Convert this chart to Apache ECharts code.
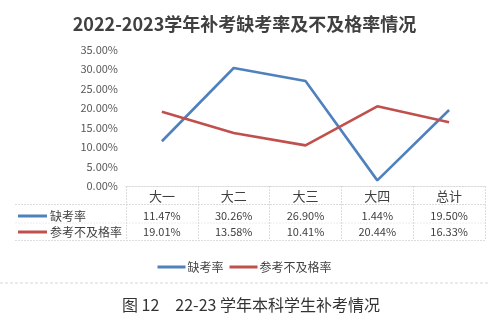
<!DOCTYPE html>
<html>
<head>
<meta charset="utf-8">
<script src="https://cdn.jsdelivr.net/npm/echarts@6/dist/echarts.min.js"></script>
<style>
  html, body { margin: 0; padding: 0; background: #fff; }
  #chart { width: 489px; height: 325px; }
</style>
</head>
<body>
<div id="chart"></div>
<script>
// Make-up exam figures for the 2022-2023 academic year
const categories = ['大一', '大二', '大三', '大四', '总计'];
const absentRate = [11.47, 30.26, 26.90, 1.44, 19.50];   // 缺考率 (%)
const failRate = [19.01, 13.58, 10.41, 20.44, 16.33];     // 参考不及格率 (%)
const seriesNames = ['缺考率', '参考不及格率'];
const yMin = 0, yMax = 35, yStep = 5;

const FONT = '"Noto Sans CJK SC", "Noto Sans", sans-serif';
const BLUE = '#4f81bd';
const RED = '#c0504d';
const TEXT = '#404040';
const BORDER = '#dcdcdc';

// plot area
const G = { left: 126, right: 4, top: 49.5, bottom: 139 };
const W = 489, H = 325;
const axisY = H - G.bottom;          // y of the 0% baseline
const row1 = axisY + 30, row2 = axisY + 46;
const tableLeft = 15, tableRight = W - G.right;

const pct = v => v.toFixed(2) + '%';

const chart = echarts.init(document.getElementById('chart'), null, { renderer: 'canvas' });

const valueAxis = (vals, offset) => ({
  type: 'category',
  data: categories,
  position: 'bottom',
  offset: offset,
  axisLine: { show: false },
  axisTick: { show: false },
  axisLabel: {
    interval: 0, margin: 5, fontSize: 11, color: TEXT, fontFamily: FONT,
    formatter: (v, i) => pct(vals[i])
  }
});

const hLine = (y, color) => ({
  type: 'line', silent: true,
  shape: { x1: tableLeft, y1: y, x2: tableRight, y2: y },
  style: { stroke: color || BORDER, lineWidth: 1, lineDash: [2, 1] }
});

chart.setOption({
  animation: false,
  backgroundColor: '#fff',
  title: {
    text: '2022-2023学年补考缺考率及不及格率情况',
    left: 'center', top: 10,
    textStyle: { fontSize: 18, fontWeight: 'bold', color: TEXT, fontFamily: FONT }
  },
  legend: {
    data: seriesNames,
    left: 'center', top: 256,
    icon: 'rect', itemWidth: 28, itemHeight: 3, itemGap: 6,
    textStyle: { fontSize: 12, color: TEXT, fontFamily: FONT, padding: [0, 0, 0, -3] }
  },
  grid: { left: G.left, right: G.right, top: G.top, bottom: G.bottom, containLabel: false },
  xAxis: [
    {
      type: 'category',
      data: categories,
      boundaryGap: true,
      axisLine: { show: true, lineStyle: { color: BORDER, type: [2, 1] } },
      axisTick: { show: true, interval: 0, length: 54, lineStyle: { color: BORDER, type: [2, 1] } },
      axisLabel: { interval: 0, margin: 4, fontSize: 13, color: TEXT, fontFamily: FONT }
    },
    valueAxis(absentRate, 19),
    valueAxis(failRate, 35)
  ],
  yAxis: {
    type: 'value',
    min: yMin, max: yMax, interval: yStep,
    axisLine: { show: false },
    axisTick: { show: false },
    splitLine: { show: false },
    axisLabel: { margin: 8, fontSize: 11, color: '#595959', fontFamily: FONT, formatter: v => pct(v) }
  },
  series: [
    {
      name: seriesNames[0], type: 'line', data: absentRate,
      symbol: 'none', lineStyle: { width: 2.6, color: BLUE }, itemStyle: { color: BLUE }
    },
    {
      name: seriesNames[1], type: 'line', data: failRate,
      symbol: 'none', lineStyle: { width: 2.6, color: RED }, itemStyle: { color: RED }
    }
  ],
  graphic: [
    // data-table borders
    hLine(axisY + 18.5),
    hLine(axisY + 37, '#ececec'),
    hLine(axisY + 54.5),
    // row keys of the data table
    {
      type: 'line', silent: true,
      shape: { x1: 18, y1: row1, x2: 47, y2: row1 },
      style: { stroke: BLUE, lineWidth: 3 }
    },
    {
      type: 'text', silent: true, x: 50, y: row1,
      style: { text: seriesNames[0], fill: TEXT, font: '12px ' + FONT, textVerticalAlign: 'middle', verticalAlign: 'middle' }
    },
    {
      type: 'line', silent: true,
      shape: { x1: 18, y1: row2, x2: 47, y2: row2 },
      style: { stroke: RED, lineWidth: 3 }
    },
    {
      type: 'text', silent: true, x: 50, y: row2,
      style: { text: seriesNames[1], fill: TEXT, font: '12px ' + FONT, textVerticalAlign: 'middle', verticalAlign: 'middle' }
    },
    // chart frame bottom edge
    {
      type: 'line', silent: true,
      shape: { x1: 0, y1: 283, x2: W, y2: 283 },
      style: { stroke: '#d8d8d8', lineWidth: 1, lineDash: [3, 2] }
    },
    // figure caption
    {
      type: 'text', silent: true, x: 122, y: 305,
      style: { text: '图 12　22-23 学年本科学生补考情况', fill: '#333', font: '16px ' + FONT, verticalAlign: 'middle', textVerticalAlign: 'middle' }
    }
  ]
});
</script>
</body>
</html>
